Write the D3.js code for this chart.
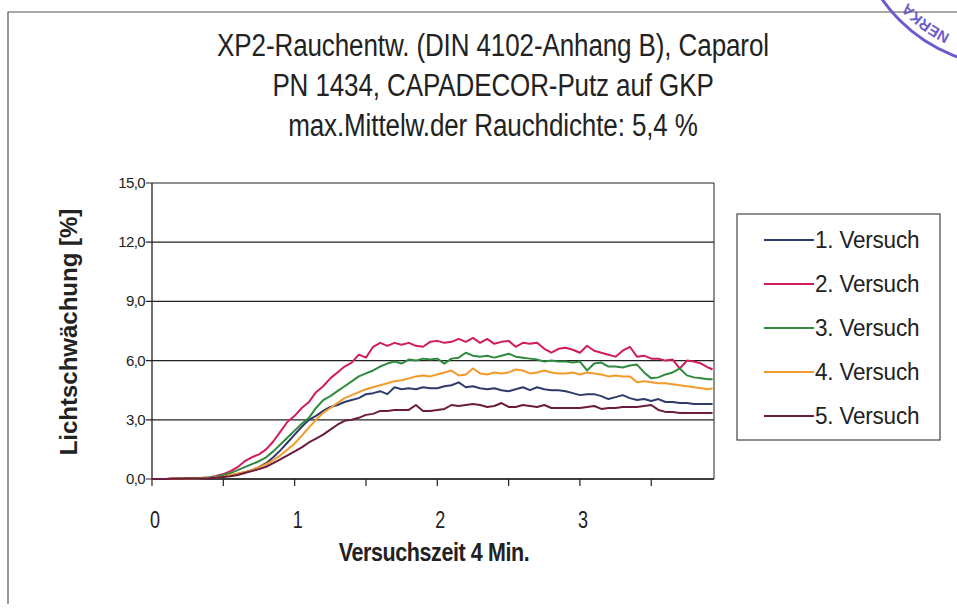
<!DOCTYPE html>
<html>
<head>
<meta charset="utf-8">
<script src="https://cdn.jsdelivr.net/npm/d3@7"></script>
<style>
  body { margin: 0; background: #fff; }
  svg { display: block; font-family: "Liberation Sans", Arial, sans-serif; }
</style>
</head>
<body>
<script>
// Zeit in Minuten (Messpunkte)
const minutes = [0, 0.05, 0.1, 0.15, 0.2, 0.25, 0.3, 0.35, 0.4, 0.45,
  0.5, 0.55, 0.6, 0.65, 0.7, 0.75, 0.8, 0.85, 0.9, 0.95,
  1, 1.05, 1.1, 1.15, 1.2, 1.25, 1.3, 1.35, 1.4, 1.45,
  1.5, 1.55, 1.6, 1.65, 1.7, 1.75, 1.8, 1.85, 1.9, 1.95,
  2, 2.05, 2.1, 2.15, 2.2, 2.25, 2.3, 2.35, 2.4, 2.45,
  2.5, 2.55, 2.6, 2.65, 2.7, 2.75, 2.8, 2.85, 2.9, 2.95,
  3, 3.05, 3.1, 3.15, 3.2, 3.25, 3.3, 3.35, 3.4, 3.45,
  3.5, 3.55, 3.6, 3.65, 3.7, 3.75, 3.8, 3.85, 3.9, 3.93];

const seriesNames = ["1. Versuch", "2. Versuch", "3. Versuch", "4. Versuch", "5. Versuch"];
const seriesColors = ["#2e3b6b", "#d01c5c", "#2f8a3e", "#f39a2a", "#6b1c3c"];

const versuch1 = [0, 0, 0, 0.01, 0.01, 0.02, 0.03, 0.03, 0.04, 0.07,
  0.12, 0.18, 0.25, 0.35, 0.45, 0.6, 0.8, 1.1, 1.45, 1.85,
  2.25, 2.65, 3.0, 3.2, 3.45, 3.65, 3.75, 3.9, 4.0, 4.1,
  4.3, 4.35, 4.45, 4.3, 4.65, 4.55, 4.6, 4.55, 4.65, 4.6,
  4.6, 4.7, 4.75, 4.9, 4.65, 4.7, 4.6, 4.55, 4.6, 4.5,
  4.45, 4.55, 4.65, 4.5, 4.65, 4.55, 4.5, 4.5, 4.45, 4.35,
  4.25, 4.3, 4.3, 4.2, 4.05, 4.15, 4.25, 4.1, 4.0, 4.05,
  3.95, 4.05, 3.9, 3.9, 3.85, 3.85, 3.8, 3.8, 3.8, 3.8];
const versuch2 = [0, 0, 0, 0.02, 0.03, 0.04, 0.05, 0.06, 0.08, 0.15,
  0.25, 0.4, 0.6, 0.9, 1.1, 1.25, 1.5, 1.9, 2.4, 2.9,
  3.2, 3.6, 3.9, 4.4, 4.7, 5.1, 5.4, 5.7, 5.9, 6.3,
  6.15, 6.7, 6.9, 6.75, 6.9, 6.8, 6.9, 6.75, 6.7, 6.95,
  7.0, 6.9, 6.95, 7.1, 6.95, 7.15, 6.9, 7.1, 6.85, 6.95,
  7.0, 6.7, 6.9, 6.85, 6.9, 6.6, 6.4, 6.6, 6.65, 6.55,
  6.4, 6.75, 6.5, 6.4, 6.3, 6.2, 6.5, 6.7, 6.2, 6.25,
  6.1, 6.1, 6.0, 6.05, 5.6, 6.0, 5.95, 5.85, 5.65, 5.55];
const versuch3 = [0, 0, 0, 0.01, 0.02, 0.03, 0.04, 0.05, 0.07, 0.12,
  0.2, 0.3, 0.45, 0.6, 0.75, 0.9, 1.1, 1.4, 1.75, 2.1,
  2.45, 2.8, 3.1, 3.6, 4.0, 4.2, 4.45, 4.7, 4.95, 5.2,
  5.35, 5.5, 5.7, 5.85, 5.95, 5.85, 6.05, 6.0, 6.1, 6.05,
  6.1, 5.85, 6.1, 6.15, 6.4, 6.25, 6.2, 6.25, 6.15, 6.25,
  6.35, 6.2, 6.15, 6.1, 6.05, 5.95, 6.0, 5.95, 5.95, 5.9,
  5.95, 5.5, 5.85, 5.9, 5.7, 5.7, 5.65, 5.75, 5.8, 5.4,
  5.1, 5.15, 5.3, 5.4, 5.6, 5.25, 5.15, 5.1, 5.05, 5.05];
const versuch4 = [0, 0, 0, 0.01, 0.02, 0.02, 0.03, 0.04, 0.05, 0.08,
  0.12, 0.2, 0.28, 0.35, 0.45, 0.6, 0.75, 0.95, 1.2, 1.5,
  1.8, 2.2, 2.6, 3.0, 3.35, 3.6, 3.85, 4.1, 4.25, 4.4,
  4.55, 4.65, 4.75, 4.85, 4.95, 5.0, 5.1, 5.2, 5.25, 5.2,
  5.3, 5.4, 5.5, 5.25, 5.3, 5.6, 5.35, 5.3, 5.4, 5.35,
  5.4, 5.55, 5.5, 5.35, 5.4, 5.5, 5.4, 5.35, 5.35, 5.4,
  5.3, 5.4, 5.35, 5.3, 5.2, 5.25, 5.2, 5.2, 4.9, 4.95,
  4.9, 4.85, 4.85, 4.8, 4.75, 4.7, 4.65, 4.6, 4.55, 4.6];
const versuch5 = [0, 0, 0, 0.01, 0.01, 0.02, 0.02, 0.03, 0.04, 0.06,
  0.1, 0.14, 0.2, 0.3, 0.4, 0.5, 0.62, 0.8, 1.0, 1.2,
  1.4, 1.6, 1.85, 2.05, 2.25, 2.5, 2.75, 2.95, 3.0, 3.1,
  3.25, 3.3, 3.45, 3.45, 3.5, 3.5, 3.5, 3.75, 3.45, 3.45,
  3.5, 3.55, 3.75, 3.7, 3.75, 3.8, 3.75, 3.65, 3.7, 3.85,
  3.65, 3.65, 3.75, 3.7, 3.65, 3.75, 3.6, 3.6, 3.6, 3.6,
  3.6, 3.65, 3.7, 3.55, 3.6, 3.6, 3.65, 3.65, 3.65, 3.7,
  3.75, 3.5, 3.4, 3.4, 3.35, 3.35, 3.35, 3.35, 3.35, 3.35];

const allSeries = [versuch1, versuch2, versuch3, versuch4, versuch5];
const yTicks = [0, 3, 6, 9, 12, 15];
const xLabels = [0, 1, 2, 3];
const xTickMarks = [0, 0.5, 1, 1.5, 2, 2.5, 3, 3.5];
const titleLines = ["XP2-Rauchentw. (DIN 4102-Anhang B), Caparol",
  "PN 1434, CAPADECOR-Putz auf GKP",
  "max.Mittelw.der Rauchdichte: 5,4 %"];

const width = 957, height = 612;
const plot = { left: 152, right: 714, top: 183, bottom: 479 };

const svg = d3.select("body").append("svg")
  .attr("width", width)
  .attr("height", height);

svg.append("rect").attr("width", width).attr("height", height).attr("fill", "#fff");

// Rahmen (nur oben und links sichtbar im Scan)
svg.append("path")
  .attr("d", "M8,604 L8,12 L957,12")
  .attr("fill", "none")
  .attr("stroke", "#555")
  .attr("stroke-width", 1.2);

// Stempel oben rechts (angeschnitten)
const stamp = svg.append("g").attr("transform", "translate(1010,-90)");
stamp.append("circle").attr("r", 156).attr("fill", "none")
  .attr("stroke", "#6a5ccc").attr("stroke-width", 3);
stamp.append("path").attr("id", "stampArc")
  .attr("d", d3.arc()({ innerRadius: 138, outerRadius: 138, startAngle: Math.PI * 1.05, endAngle: Math.PI * 1.5 }).split("L")[0])
  .attr("fill", "none");
stamp.append("text")
  .attr("font-size", 15).attr("font-weight", "bold").attr("fill", "#6a5ccc")
  .append("textPath").attr("href", "#stampArc").attr("startOffset", 40)
  .text("NERKA");

const x = d3.scaleLinear().domain([0, 3.94]).range([plot.left, plot.right]);
const y = d3.scaleLinear().domain([0, 15]).range([plot.bottom, plot.top]);

// Gitternetz
svg.append("g").selectAll("line")
  .data(yTicks)
  .join("line")
  .attr("x1", plot.left - 6).attr("x2", plot.right)
  .attr("y1", d => y(d)).attr("y2", d => y(d))
  .attr("stroke", "#222").attr("stroke-width", 1.2);

// rechte Kante
svg.append("line")
  .attr("x1", plot.right).attr("x2", plot.right)
  .attr("y1", plot.top).attr("y2", plot.bottom)
  .attr("stroke", "#444").attr("stroke-width", 1.2);

// y-Achse
svg.append("line")
  .attr("x1", plot.left).attr("x2", plot.left)
  .attr("y1", plot.top).attr("y2", plot.bottom)
  .attr("stroke", "#222").attr("stroke-width", 1.3);

svg.append("g").selectAll("text")
  .data(yTicks)
  .join("text")
  .attr("x", plot.left - 7)
  .attr("y", d => y(d) + 5)
  .attr("text-anchor", "end")
  .attr("font-size", 15)
  .attr("letter-spacing", -0.6)
  .attr("fill", "#222")
  .text(d => d3.format(".1f")(d).replace(".", ","));

// x-Achse
svg.append("line")
  .attr("x1", plot.left).attr("x2", plot.right)
  .attr("y1", plot.bottom).attr("y2", plot.bottom)
  .attr("stroke", "#222").attr("stroke-width", 1.3);

svg.append("g").selectAll("line")
  .data(xTickMarks)
  .join("line")
  .attr("x1", d => x(d)).attr("x2", d => x(d))
  .attr("y1", plot.bottom).attr("y2", plot.bottom + 7)
  .attr("stroke", "#222").attr("stroke-width", 1.2);

svg.append("g").selectAll("text")
  .data(xLabels)
  .join("text")
  .attr("transform", d => `translate(${x(d) + 3},528) scale(1,1.3)`)
  .attr("text-anchor", "middle")
  .attr("font-size", 18)
  .attr("fill", "#222")
  .text(d => d);

// Kurven
const line = d3.line()
  .x((d, i) => x(minutes[i]))
  .y(d => y(d));

svg.append("g").selectAll("path")
  .data(allSeries)
  .join("path")
  .attr("d", line)
  .attr("fill", "none")
  .attr("stroke", (d, i) => seriesColors[i])
  .attr("stroke-width", 2)
  .attr("stroke-linejoin", "round");

// Titel
svg.append("g").selectAll("text")
  .data(titleLines)
  .join("text")
  .attr("transform", (d, i) => `translate(493,${56 + i * 40}) scale(1,1.2)`)
  .attr("text-anchor", "middle")
  .attr("font-size", 26)
  .attr("letter-spacing", -0.1)
  .attr("fill", "#222")
  .text(d => d);

// Achsentitel
svg.append("text")
  .attr("transform", "translate(77,332) rotate(-90)")
  .attr("text-anchor", "middle")
  .attr("font-size", 24)
  .attr("font-weight", "bold")
  .attr("fill", "#222")
  .text("Lichtschwächung [%]");

svg.append("text")
  .attr("transform", "translate(434,561) scale(1,1.2)")
  .attr("text-anchor", "middle")
  .attr("font-size", 21.5)
  .attr("font-weight", "bold")
  .attr("letter-spacing", -0.4)
  .attr("fill", "#222")
  .text("Versuchszeit 4 Min.");

// Legende
const legend = svg.append("g");
legend.append("rect")
  .attr("x", 737).attr("y", 214)
  .attr("width", 203).attr("height", 226)
  .attr("fill", "#fff")
  .attr("stroke", "#444").attr("stroke-width", 1.2);

const items = legend.selectAll("g")
  .data(seriesNames)
  .join("g")
  .attr("transform", (d, i) => `translate(0,${240 + i * 44})`);

items.append("line")
  .attr("x1", 764).attr("x2", 814)
  .attr("y1", 0).attr("y2", 0)
  .attr("stroke", (d, i) => seriesColors[i])
  .attr("stroke-width", 2.2);

items.append("text")
  .attr("transform", "translate(815,8) scale(1,1.1)")
  .attr("font-size", 22.5)
  .attr("letter-spacing", -0.2)
  .attr("fill", "#222")
  .text(d => d);
</script>
</body>
</html>
